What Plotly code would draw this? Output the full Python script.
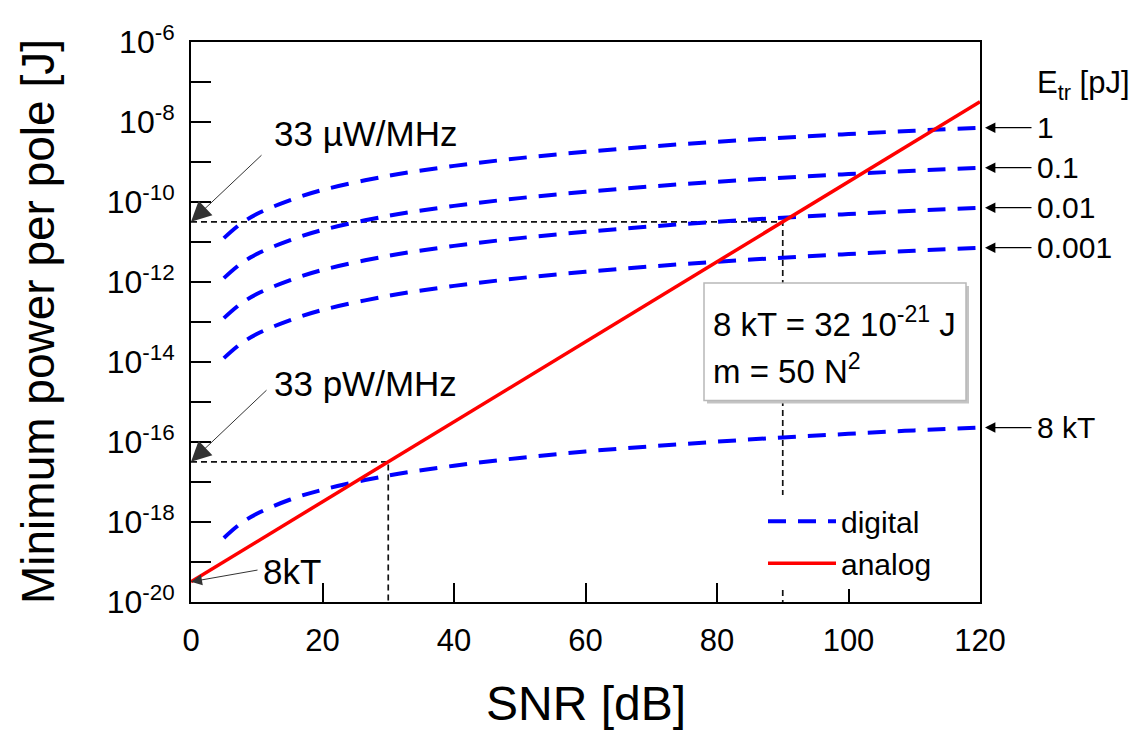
import numpy as np
import plotly.graph_objects as go

# ---------------- data ----------------
snr_digital = [5, 7.5, 10, 15, 20, 30, 40, 50, 60, 70, 80, 90, 100, 110, 120]
digital_1pJ = [1.25e-11, 2.8e-11, 5.0e-11, 1.1e-10, 2.0e-10, 4.5e-10, 8.0e-10, 1.25e-9,
               1.8e-9, 2.45e-9, 3.2e-9, 4.05e-9, 5.0e-9, 6.05e-9, 7.2e-9]
digital_01pJ = [1.25e-12, 2.8e-12, 5.0e-12, 1.1e-11, 2.0e-11, 4.5e-11, 8.0e-11, 1.25e-10,
                1.8e-10, 2.45e-10, 3.2e-10, 4.05e-10, 5.0e-10, 6.05e-10, 7.2e-10]
digital_001pJ = [1.25e-13, 2.8e-13, 5.0e-13, 1.1e-12, 2.0e-12, 4.5e-12, 8.0e-12, 1.25e-11,
                 1.8e-11, 2.45e-11, 3.2e-11, 4.05e-11, 5.0e-11, 6.05e-11, 7.2e-11]
digital_0001pJ = [1.25e-14, 2.8e-14, 5.0e-14, 1.1e-13, 2.0e-13, 4.5e-13, 8.0e-13, 1.25e-12,
                  1.8e-12, 2.45e-12, 3.2e-12, 4.05e-12, 5.0e-12, 6.05e-12, 7.2e-12]
digital_8kT = [4.0e-19, 9.0e-19, 1.6e-18, 3.6e-18, 6.4e-18, 1.45e-17, 2.55e-17, 4.0e-17,
               5.8e-17, 7.8e-17, 1.02e-16, 1.3e-16, 1.6e-16, 1.95e-16, 2.3e-16]
digital_series = [digital_1pJ, digital_01pJ, digital_001pJ, digital_0001pJ, digital_8kT]
etr_labels = ["1", "0.1", "0.01", "0.001", "8 kT"]

snr_analog = [0, 30, 60, 90, 120]
analog = [3.2e-20, 3.2e-17, 3.2e-14, 3.2e-11, 3.2e-8]

ref_snr = [30, 90]
ref_power = [3.2e-17, 3.2e-11]
ref_labels = ["33 pW/MHz", "33 µW/MHz"]
kT8 = 3.2e-20

box_lines = ["8 kT = 32 10<sup>-21</sup> J", "m = 50 N<sup>2</sup>"]

x_ticks = [0, 20, 40, 60, 80, 100, 120]
y_decades = list(range(-20, -5))

FONT = "Liberation Sans, Arial, sans-serif"
BLUE = "#0000ff"
RED = "#ff0000"

fig = go.Figure()

# dashed reference lines
for xs, ps in zip(ref_snr, ref_power):
    fig.add_trace(go.Scatter(x=[0, xs, xs], y=[ps, ps, 1e-20], mode="lines",
                             line=dict(color="#111111", width=1.7, dash="6px,4px"),
                             showlegend=False, hoverinfo="skip"))

for i, ys in enumerate(digital_series):
    fig.add_trace(go.Scatter(x=snr_digital, y=ys, mode="lines", name="digital",
                             line=dict(color=BLUE, width=4, dash="18px,12px", shape="spline"),
                             legendgroup="digital", showlegend=(i == 0)))

fig.add_trace(go.Scatter(x=snr_analog, y=analog, mode="lines", name="analog",
                         line=dict(color=RED, width=3.5)))

# plot area geometry in page pixels (page has an 8px body offset)
OFF = 8
L, R, T, B = 191, 980, 35, 602
W, H = R - L, B - T
def px(xp):
    return (xp - L) / W
def py(yp):
    return (B - yp) / H

ann = []
# left-side arrows and labels
for ps, lab, ty, (ax_, ay_) in zip(ref_power, ref_labels, [381, 127.5], [(77, -73), (72, -68)]):
    ann.append(dict(x=0, y=np.log10(ps), xref="x", yref="y", text="", showarrow=True,
                    ax=ax_, ay=ay_, arrowhead=2, arrowsize=4, arrowwidth=1,
                    arrowcolor="#333333", standoff=0))
    ann.append(dict(x=px(272), y=py(ty), xref="paper", yref="paper", text=lab,
                    showarrow=False, xanchor="left", yanchor="middle",
                    font=dict(family=FONT, size=35, color="black")))
ann.append(dict(x=0, y=np.log10(kT8), xref="x", yref="y", text="", showarrow=True,
                ax=68, ay=-12, arrowhead=2, arrowsize=2.2, arrowwidth=1,
                arrowcolor="#333333", standoff=0))
ann.append(dict(x=px(261), y=py(571), xref="paper", yref="paper", text="8kT",
                showarrow=False, xanchor="left", yanchor="middle",
                font=dict(family=FONT, size=35, color="black")))

# right-side E_tr labels
ann.append(dict(x=px(1035), y=py(79), xref="paper", yref="paper",
                text="E<sub>tr</sub> [pJ]", showarrow=False, xanchor="left", yanchor="middle",
                font=dict(family=FONT, size=31, color="black")))
for ys, lab in zip(digital_series, etr_labels):
    yv = np.log10(ys[-1])
    ann.append(dict(x=120, y=yv, xref="x", yref="y", text="", showarrow=True,
                    ax=53, ay=0, arrowhead=2, arrowsize=1.6, arrowwidth=1.3,
                    arrowcolor="black", standoff=5))
    ann.append(dict(x=px(1035), y=yv, xref="paper", yref="y", text=lab,
                    showarrow=False, xanchor="left", yanchor="middle",
                    font=dict(family=FONT, size=30, color="black")))

# info box text
for line, ty in zip(box_lines, [318, 366]):
    ann.append(dict(x=px(711), y=py(ty), xref="paper", yref="paper", text=line,
                    showarrow=False, xanchor="left", yanchor="middle", align="left",
                    font=dict(family=FONT, size=33, color="black")))

# axis titles
ann.append(dict(x=px(38), y=0.5, xref="paper", yref="paper", text="Minimum power per pole [J]",
                textangle=-90, showarrow=False, xanchor="center", yanchor="middle",
                font=dict(family=FONT, size=46, color="black")))
ann.append(dict(x=0.5, y=py(705), xref="paper", yref="paper", text="SNR [dB]",
                showarrow=False, xanchor="center", yanchor="middle",
                font=dict(family=FONT, size=48, color="black")))

shapes = [
    dict(type="rect", xref="paper", yref="paper", layer="above",
         x0=px(707), x1=px(969), y0=py(282), y1=py(401),
         fillcolor="#c4c4c4", line=dict(width=0)),
    dict(type="rect", xref="paper", yref="paper", layer="above",
         x0=px(704), x1=px(966), y0=py(279), y1=py(398),
         fillcolor="white", line=dict(color="#b8b8b8", width=1.5)),
]

fig.update_layout(
    width=1144, height=742,
    margin=dict(l=L - OFF, r=1144 - R + OFF, t=T - OFF, b=742 - B + OFF),
    paper_bgcolor="white", plot_bgcolor="white",
    font=dict(family=FONT, color="black"),
    showlegend=True,
    legend=dict(x=px(763), y=py(494), xanchor="left", yanchor="top",
                bgcolor="white", borderwidth=0, itemwidth=68,
                font=dict(family=FONT, size=30, color="black"), tracegroupgap=0),
    annotations=ann,
    shapes=shapes,
)

fig.update_xaxes(range=[0, 120], tickvals=x_ticks, ticktext=[str(v) for v in x_ticks],
                 ticks="inside", ticklen=19, tickwidth=1.5, tickcolor="black",
                 showline=True, linecolor="black", linewidth=2, mirror=True,
                 showgrid=False, zeroline=False,
                 tickfont=dict(family=FONT, size=31, color="black"), ticklabelstandoff=10)
fig.update_yaxes(type="log", range=[-20, -6],
                 tickvals=[10.0 ** d for d in y_decades],
                 ticktext=[("10<sup>%d</sup>" % d) if d % 2 == 0 else "" for d in y_decades],
                 ticks="inside", ticklen=20, tickwidth=1.5, tickcolor="black",
                 showline=True, linecolor="black", linewidth=2, mirror=True,
                 showgrid=False, zeroline=False,
                 tickfont=dict(family=FONT, size=32, color="black"), ticklabelstandoff=8)

fig.write_html("out.html")
